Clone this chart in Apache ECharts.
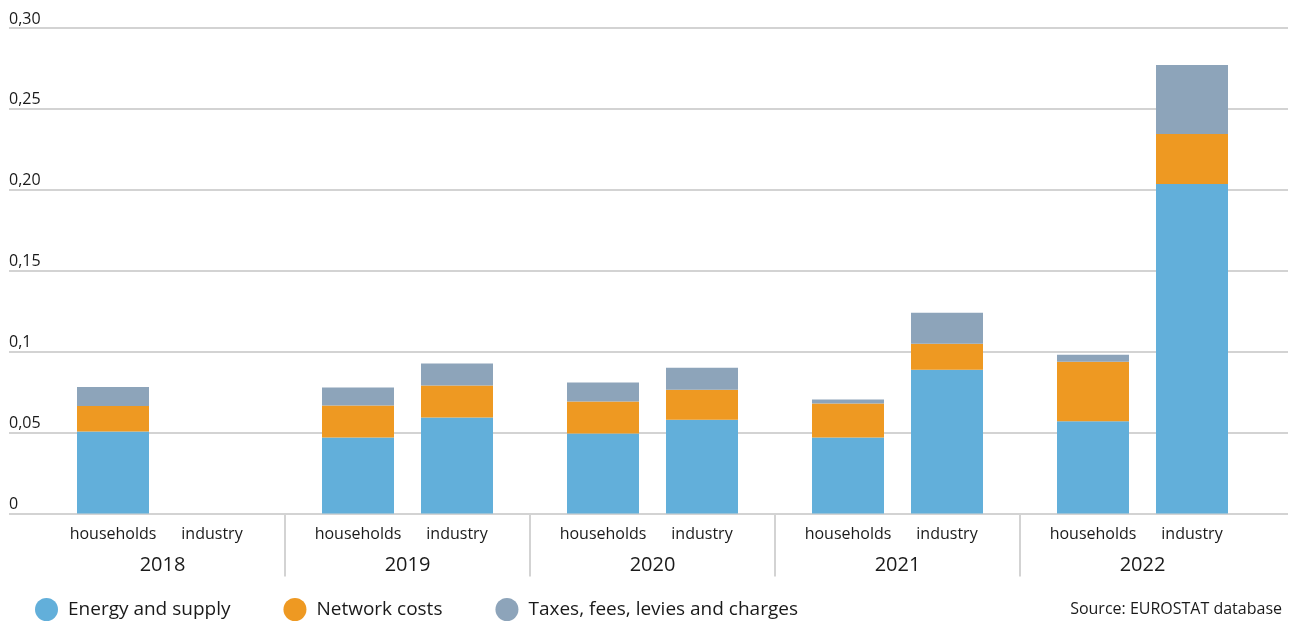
<!DOCTYPE html>
<html>
<head>
<meta charset="utf-8">
<script src="https://cdn.jsdelivr.net/npm/echarts@6/dist/echarts.min.js"></script>
<style>html,body{margin:0;padding:0;background:#fff}#c{width:1291px;height:626px}</style>
</head>
<body>
<div id="c"></div>
<script>
const years = ['2018', '2019', '2020', '2021', '2022'];
const groupLabels = ['households', 'industry'];
const seriesNames = ['Energy and supply', 'Network costs', 'Taxes, fees, levies and charges'];
const yTickLabels = ['0', '0,05', '0,1', '0,15', '0,20', '0,25', '0,30'];

const hhEnergy  = [0.0506, 0.0469, 0.0494, 0.0469, 0.0570];
const hhNetwork = [0.0158, 0.0198, 0.0198, 0.0210, 0.0368];
const hhTaxes   = [0.0118, 0.0111, 0.0117, 0.0025, 0.0043];

const indEnergy  = [null, 0.0593, 0.0580, 0.0889, 0.2036];
const indNetwork = [null, 0.0198, 0.0185, 0.0160, 0.0309];
const indTaxes   = [null, 0.0136, 0.0136, 0.0191, 0.0426];

const colors = ['#62AFDA', '#EE9922', '#8DA4BA'];
const FONT = 'Open Sans';
const TXT = '#1a1a1a';

const chart = echarts.init(document.getElementById('c'), null, {renderer: 'canvas'});

function bar(name, data, stack, color) {
  return {
    name: name, type: 'bar', stack: stack, data: data,
    xAxisIndex: 0, yAxisIndex: 0,
    barWidth: 72, barGap: '37.5%',
    itemStyle: {color: color},
    emphasis: {disabled: true},
    animation: false
  };
}

const option = {
  animation: false,
  textStyle: {fontFamily: FONT},
  grid: [
    {left: 40, right: 26, top: 28, bottom: 112.5},
    {left: 9, right: 3, top: 28, bottom: 112.5},
    {left: 40, right: 26, top: 513.5, height: 63}
  ],
  xAxis: [
    {
      type: 'category', gridIndex: 0, data: years,
      axisLine: {show: false}, axisTick: {show: false}, splitLine: {show: false},
      axisLabel: {
        interval: 0, margin: 9,
        formatter: function (v) {
          return '{h|' + groupLabels[0] + '}{i|' + groupLabels[1] + '}\n{y|' + v + '}';
        },
        rich: {
          h: {width: 99, align: 'center', fontSize: 16, lineHeight: 23, color: TXT, fontFamily: FONT},
          i: {width: 99, align: 'center', fontSize: 16, lineHeight: 23, color: TXT, fontFamily: FONT},
          y: {fontSize: 20, lineHeight: 39, color: TXT, fontFamily: FONT, align: 'center'}
        }
      }
    },
    {type: 'value', gridIndex: 1, show: false},
    {
      type: 'category', gridIndex: 2, data: years,
      axisLine: {show: false}, axisTick: {show: false}, axisLabel: {show: false},
      splitLine: {show: true, interval: 0, showMinLine: false, showMaxLine: false,
        lineStyle: {color: '#d3d3d3', width: 2}}
    }
  ],
  yAxis: [
    {type: 'value', gridIndex: 0, min: 0, max: 0.3, interval: 0.05, show: false,
      splitLine: {show: false}},
    {
      type: 'value', gridIndex: 1, min: 0, max: 0.3, interval: 0.05,
      axisLine: {show: false}, axisTick: {show: false},
      splitLine: {show: true, lineStyle: {color: '#d3d3d3', width: 2}},
      axisLabel: {
        inside: true, margin: 0, verticalAlign: 'bottom', align: 'left',
        padding: [0, 0, 1, 0],
        fontSize: 16, color: TXT, fontFamily: FONT,
        formatter: function (v) { return yTickLabels[Math.round(v / 0.05)]; }
      }
    },
    {type: 'value', gridIndex: 2, show: false}
  ],
  legend: {
    left: 35, top: 598, padding: 0, icon: 'circle', itemWidth: 23, itemHeight: 23, itemGap: 53,
    data: seriesNames,
    selectedMode: false,
    textStyle: {fontSize: 19, color: TXT, fontFamily: FONT, padding: [0, 0, 0, 5]}
  },
  title: {
    text: 'Source: EUROSTAT database', right: 9, top: 601, padding: 0,
    textStyle: {fontSize: 16, fontWeight: 'normal', color: TXT, fontFamily: FONT}
  },
  series: [
    bar(seriesNames[0], hhEnergy, 'h', colors[0]),
    bar(seriesNames[1], hhNetwork, 'h', colors[1]),
    bar(seriesNames[2], hhTaxes, 'h', colors[2]),
    bar(seriesNames[0], indEnergy, 'i', colors[0]),
    bar(seriesNames[1], indNetwork, 'i', colors[1]),
    bar(seriesNames[2], indTaxes, 'i', colors[2])
  ]
};
chart.setOption(option);
</script>
</body>
</html>
